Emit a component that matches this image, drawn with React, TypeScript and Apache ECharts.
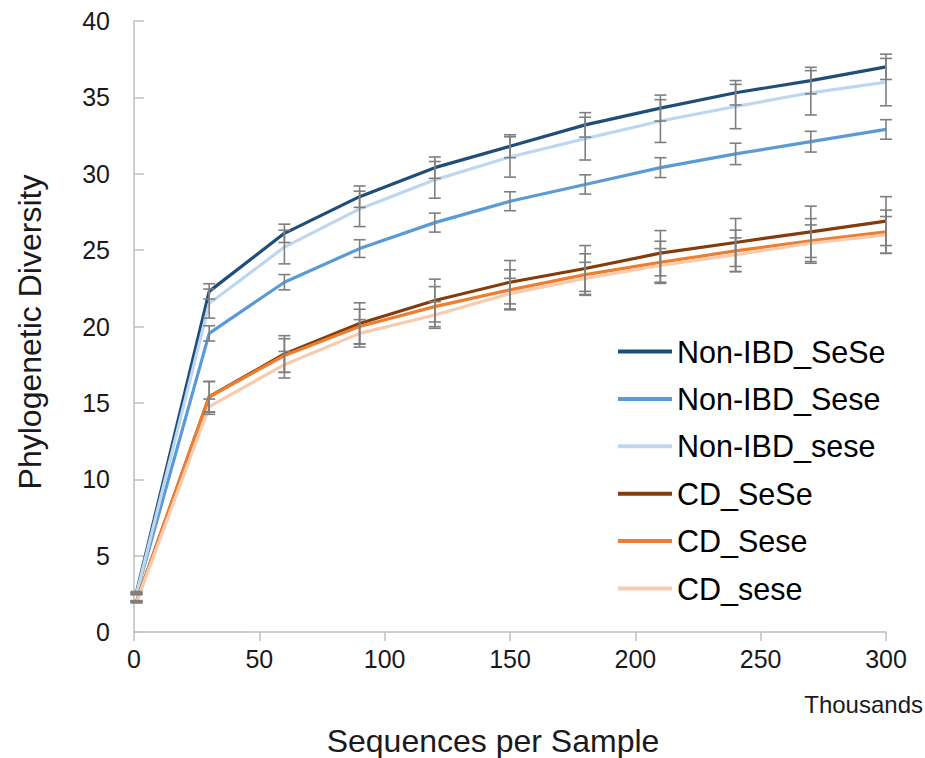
import React, { useEffect, useRef } from "react";
import * as echarts from "echarts";

const xValues = [1, 30, 60, 90, 120, 150, 180, 210, 240, 270, 300];

const seriesNames = ["Non-IBD_SeSe", "Non-IBD_Sese", "Non-IBD_sese", "CD_SeSe", "CD_Sese", "CD_sese"];

const nonIbdSeSe = [2.6, 22.3, 26.1, 28.5, 30.4, 31.8, 33.2, 34.3, 35.3, 36.1, 37.0];
const nonIbdSeSeErr = [0.05, 0.5, 0.6, 0.7, 0.7, 0.75, 0.8, 0.85, 0.8, 0.87, 0.83];
const nonIbdSese = [2.5, 19.55, 22.9, 25.1, 26.8, 28.2, 29.3, 30.4, 31.3, 32.1, 32.9];
const nonIbdSeseErr = [0.05, 0.5, 0.5, 0.58, 0.62, 0.62, 0.63, 0.65, 0.7, 0.68, 0.64];
const nonIbdsese = [2.5, 21.5, 25.2, 27.7, 29.6, 31.1, 32.3, 33.45, 34.4, 35.3, 36.0];
const nonIbdseseErr = [0.05, 0.95, 1.1, 1.16, 1.2, 1.32, 1.4, 1.4, 1.45, 1.45, 1.55];
const cdSeSe = [2.0, 15.4, 18.2, 20.2, 21.7, 22.9, 23.8, 24.8, 25.5, 26.2, 26.9];
const cdSeSeErr = [0.05, 1.0, 1.2, 1.35, 1.4, 1.42, 1.5, 1.48, 1.57, 1.68, 1.6];
const cdSese = [2.0, 15.4, 18.1, 20.0, 21.3, 22.4, 23.4, 24.2, 24.95, 25.6, 26.2];
const cdSeseErr = [0.05, 1.0, 1.1, 1.13, 1.31, 1.31, 1.36, 1.38, 1.36, 1.46, 1.42];
const cdsese = [1.95, 14.75, 17.5, 19.55, 20.75, 22.15, 23.15, 24.0, 24.7, 25.45, 26.0];
const cdseseErr = [0.05, 0.5, 0.87, 0.9, 0.87, 1.0, 1.05, 1.1, 1.1, 1.2, 1.2];

const seriesValues = [nonIbdSeSe, nonIbdSese, nonIbdsese, cdSeSe, cdSese, cdsese];
const seriesErrors = [nonIbdSeSeErr, nonIbdSeseErr, nonIbdseseErr, cdSeSeErr, cdSeseErr, cdseseErr];
const seriesColors = ["#1F4E79", "#5B9BD5", "#BDD7EE", "#843C0C", "#ED7D31", "#F8CBAD"];

const xTickInterval = 50;
const yTickInterval = 5;

const FONT = "'Liberation Sans', Arial, sans-serif";

export default function App() {
  const ref = useRef<HTMLDivElement>(null);

  useEffect(() => {
    document.body.style.margin = "0";
    if (!ref.current) return;
    const chart = echarts.init(ref.current, null, { renderer: "svg" });

    const lineSeries = seriesNames.map((name, i) => ({
      name,
      type: "line",
      color: seriesColors[i],
      data: xValues.map((x, j) => [x, seriesValues[i][j]]),
      showSymbol: false,
      symbol: "none",
      lineStyle: { width: 3.2, color: seriesColors[i] },
      z: 2,
    }));

    const errData: number[][] = [];
    seriesValues.forEach((vals, i) => {
      vals.forEach((v, j) => {
        errData.push([xValues[j], v - seriesErrors[i][j], v + seriesErrors[i][j]]);
      });
    });

    const errSeries = {
      type: "custom",
      name: "err",
      data: errData,
      encode: { x: 0, y: [1, 2] },
      z: 3,
      silent: true,
      renderItem: (params: any, api: any) => {
        const x = api.value(0);
        const lo = api.coord([x, api.value(1)]);
        const hi = api.coord([x, api.value(2)]);
        const hw = 6;
        const style = { stroke: "#7F7F7F", lineWidth: 1.6 };
        return {
          type: "group",
          children: [
            { type: "line", shape: { x1: lo[0], y1: lo[1], x2: hi[0], y2: hi[1] }, style },
            { type: "line", shape: { x1: lo[0] - hw, y1: lo[1], x2: lo[0] + hw, y2: lo[1] }, style },
            { type: "line", shape: { x1: hi[0] - hw, y1: hi[1], x2: hi[0] + hw, y2: hi[1] }, style },
          ],
        };
      },
    };

    chart.setOption({
      animation: false,
      backgroundColor: "#ffffff",
      textStyle: { fontFamily: FONT },
      grid: { left: 134, right: 39, top: 21, bottom: 126, containLabel: false },
      legend: {
        data: seriesNames,
        orient: "vertical",
        left: 618,
        top: 336,
        padding: 0,
        icon: "rect",
        itemWidth: 54,
        itemHeight: 4,
        itemGap: 16.4,
        textStyle: { fontSize: 30.5, color: "#000000", fontFamily: FONT },
      },
      xAxis: {
        type: "value",
        min: 0,
        max: 300,
        interval: xTickInterval,
        axisLine: { show: true, lineStyle: { color: "#BFBFBF", width: 1.5 } },
        axisTick: { show: true, inside: false, length: 9, lineStyle: { color: "#BFBFBF", width: 1.5 } },
        splitLine: { show: false },
        axisLabel: { fontSize: 25, color: "#1a1a1a", margin: 14, fontFamily: FONT },
      },
      yAxis: {
        type: "value",
        min: 0,
        max: 40,
        interval: yTickInterval,
        axisLine: { show: true, lineStyle: { color: "#BFBFBF", width: 1.5 } },
        axisTick: { show: true, inside: true, length: 10, lineStyle: { color: "#BFBFBF", width: 1.5 } },
        splitLine: { show: false },
        axisLabel: { fontSize: 25, color: "#1a1a1a", margin: 24, fontFamily: FONT },
      },
      graphic: [
        {
          type: "text",
          x: 923,
          y: 704,
          style: { text: "Thousands", fontSize: 24, fill: "#1a1a1a", align: "right", verticalAlign: "middle", fontFamily: FONT },
        },
        {
          type: "text",
          x: 493,
          y: 741,
          style: { text: "Sequences per Sample", fontSize: 32, fill: "#1a1a1a", align: "center", verticalAlign: "middle", fontFamily: FONT },
        },
        {
          type: "text",
          x: 30,
          y: 332,
          rotation: Math.PI / 2,
          style: { text: "Phylogenetic Diversity", fontSize: 32, fill: "#1a1a1a", align: "center", verticalAlign: "middle", fontFamily: FONT },
        },
      ],
      series: [...lineSeries, errSeries],
    });

    return () => chart.dispose();
  }, []);

  return <div ref={ref} style={{ width: 925, height: 758 }} />;
}
